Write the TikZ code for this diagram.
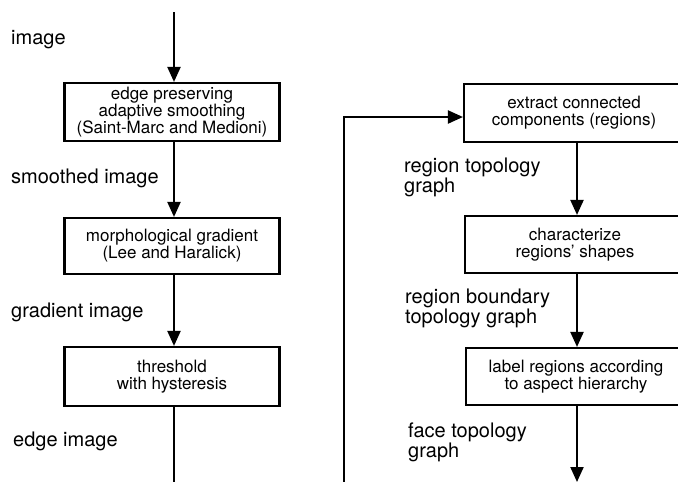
\documentclass[tikz,border=0pt]{standalone}
\usepackage{fontspec}
\setmainfont{TeX Gyre Heros}
\usetikzlibrary{arrows.meta}
\begin{document}
\begin{tikzpicture}[x=1pt,y=-1pt,
  stagebox/.style={draw,line width=2.1pt,minimum width=215pt,inner sep=0pt,
    align=center,font=\fontsize{17}{17}\selectfont},
  flowlabel/.style={anchor=west,align=left,inner sep=0pt,
    font=\fontsize{20}{20}\selectfont},
  flow/.style={line width=2.1pt,-{Triangle[length=15pt,width=13pt]}},
  plain/.style={line width=2.1pt}]
\clip (0,0) rectangle (678,482);
\fill[white] (0,0) rectangle (678,482);

% left column: low-level processing
\node[stagebox,minimum height=58pt] (smooth) at (172,112)
  {edge preserving\\adaptive smoothing\\(Saint-Marc and Medioni)};
\node[stagebox,minimum height=56pt] (grad) at (172,246)
  {morphological gradient\\(Lee and Haralick)};
\node[stagebox,minimum height=59pt] (thresh) at (172,376.5)
  {threshold\\with hysteresis};

\coordinate (in) at (174,12);
\coordinate (leftout) at (174,482);

\draw[flow] (in) -- (smooth.north -| in);
\draw[flow] (smooth.south -| in) -- (grad.north -| in);
\draw[flow] (grad.south -| in) -- (thresh.north -| in);
\draw[plain] (thresh.south -| in) -- (leftout);

\node[flowlabel] (limage) at (11,40) {image};
\node[flowlabel] (lsmooth) at (11,178) {smoothed image};
\node[flowlabel] (lgrad) at (11,312) {gradient image};
\node[flowlabel] (ledge) at (13,441) {edge image};

% right column: region analysis
\node[stagebox,minimum width=220pt,minimum height=58pt] (extract) at (574,113)
  {extract connected\\components (regions)};
\node[stagebox,minimum width=220pt,minimum height=57pt] (shape) at (575,244.5)
  {characterize\\regions' shapes};
\node[stagebox,minimum width=220pt,minimum height=57pt] (aspect) at (576,376.5)
  {label regions according\\to aspect hierarchy};

\coordinate (fbin) at (344,482);
\coordinate (fbtop) at (344,117);
\coordinate (rightout) at (577,482);

\draw[flow] (fbin) -- (fbtop) -- (fbtop -| extract.west);
\draw[flow] (extract.south -| rightout) -- (shape.north -| rightout);
\draw[flow] (shape.south -| rightout) -- (aspect.north -| rightout);
\draw[flow] (aspect.south -| rightout) -- (rightout);

\node[flowlabel] (lregion) at (404,177) {region topology\\graph};
\node[flowlabel] (lboundary) at (405,308.5) {region boundary\\topology graph};
\node[flowlabel] (lface) at (408,442) {face topology\\graph};
\end{tikzpicture}
\end{document}
